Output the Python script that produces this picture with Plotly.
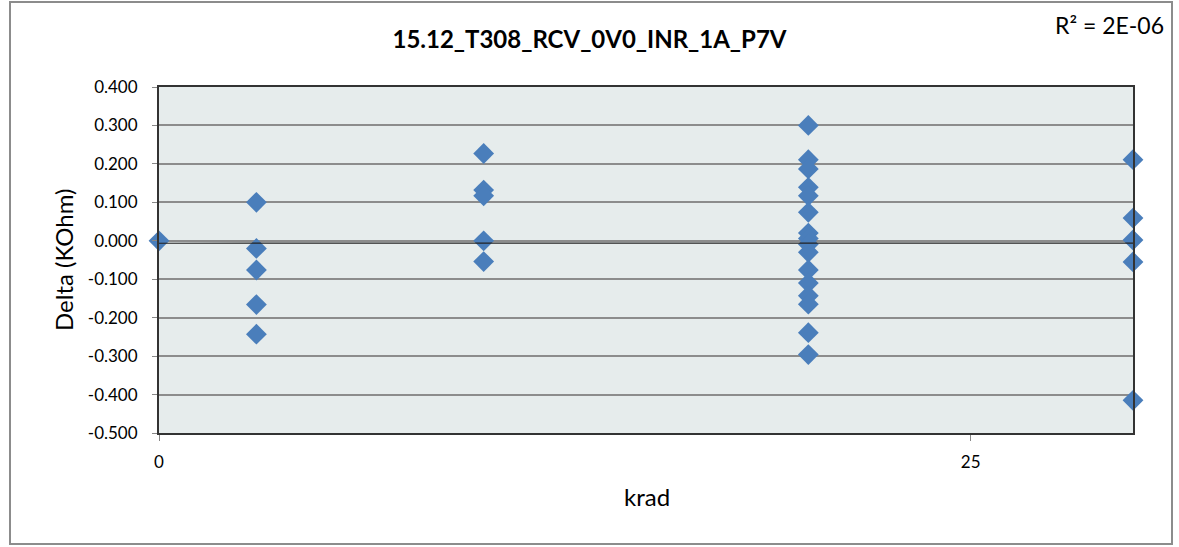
import numpy as np
import plotly.graph_objects as go

# Data
krad = [0,
        3, 3, 3, 3, 3,
        10, 10, 10, 10, 10,
        20, 20, 20, 20, 20, 20, 20, 20, 20, 20, 20, 20, 20, 20, 20, 20,
        30, 30, 30, 30, 30]
delta = [0.000,
         0.100, -0.020, -0.076, -0.166, -0.243,
         0.227, 0.132, 0.117, 0.000, -0.054,
         0.300, 0.211, 0.187, 0.139, 0.117, 0.074, 0.020, 0.006, -0.009, -0.030,
         -0.076, -0.110, -0.143, -0.165, -0.239, -0.296,
         0.211, 0.059, 0.002, -0.055, -0.415]
title_text = "15.12_T308_RCV_0V0_INR_1A_P7V"
r2_text = "R² = 2E-06"
x_title = "krad"
y_title = "Delta (KOhm)"
x_ticks = [0, 25]
y_ticks = [round(-0.5 + 0.1 * i, 1) for i in range(10)]

FONT = "Lato, Open Sans, Arial, sans-serif"

W, H = 1179, 547
PL, PR, PT, PB = 159, 1133, 87, 433   # plot area in pixels
PW, PH = PR - PL, PB - PT

def px(x):
    return (x - PL) / PW

def py(y):
    return (PB - y) / PH

# linear trendline
coef = np.polyfit(krad, delta, 1)
tx = np.array([0, 30])
ty = np.polyval(coef, tx)

fig = go.Figure()
fig.add_trace(go.Scatter(
    x=krad, y=delta, mode="markers",
    marker=dict(symbol="diamond", size=16, color="#4A7EBB",
                line=dict(width=0)),
    cliponaxis=False, showlegend=False))
fig.add_trace(go.Scatter(
    x=tx, y=ty, mode="lines",
    line=dict(color="#222222", width=1.2),
    showlegend=False, hoverinfo="skip"))

fig.update_layout(
    width=W, height=H,
    margin=dict(l=PL, r=W - PR, t=PT, b=H - PB),
    paper_bgcolor="white",
    plot_bgcolor="#E6ECEC",
    font=dict(family=FONT, size=17, color="#000"),
    title=dict(text="<b>" + title_text + "</b>", x=0.5, xref="container",
               xanchor="center", y=1 - 40 / H, yref="container",
               yanchor="middle", font=dict(size=24, family=FONT)),
    xaxis=dict(range=[0, 30], tickvals=x_ticks, ticktext=[str(v) for v in x_ticks],
               showgrid=False, zeroline=False,
               showline=True, mirror=True, linecolor="#333", linewidth=2,
               ticks="outside", ticklen=6, tickcolor="#888",
               tickfont=dict(size=17), ticklabelstandoff=7),
    yaxis=dict(range=[-0.5, 0.4], tickvals=y_ticks,
               ticktext=[f"{v:.3f}" for v in y_ticks],
               showgrid=True, gridcolor="#8C8C8C", gridwidth=1.5, zeroline=False,
               showline=True, mirror=True, linecolor="#333", linewidth=2,
               ticks="outside", ticklen=5, tickcolor="#888",
               tickfont=dict(size=17), ticklabelstandoff=11),
    annotations=[
        dict(text=r2_text, xref="paper", yref="paper",
             x=px(1166), y=py(25), xanchor="right", yanchor="middle",
             showarrow=False, font=dict(size=23, family=FONT)),
        dict(text=x_title, xref="paper", yref="paper",
             x=px(647), y=py(497), xanchor="center", yanchor="middle",
             showarrow=False, font=dict(size=24, family=FONT)),
        dict(text=y_title, xref="paper", yref="paper", textangle=-90,
             x=px(63), y=py(260), xanchor="center", yanchor="middle",
             showarrow=False, font=dict(size=24, family=FONT)),
    ],
    shapes=[dict(type="rect", xref="paper", yref="paper",
                 x0=px(10), x1=px(1172), y0=py(544), y1=py(2),
                 line=dict(color="#8C8C8C", width=2), layer="below")],
)

fig.write_html("out.html", config={"displayModeBar": False},
               post_script="document.body.style.margin='0';")
